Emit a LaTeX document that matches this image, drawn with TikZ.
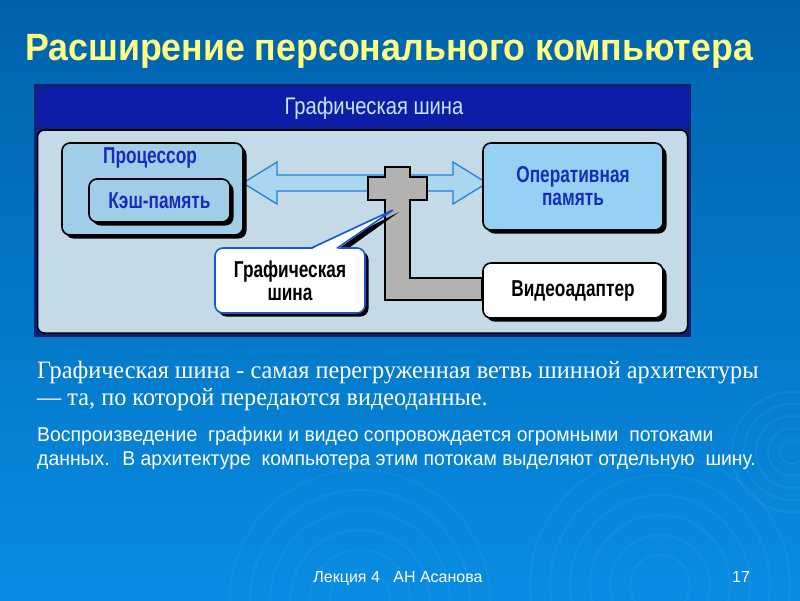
\documentclass[tikz,border=0pt]{standalone}
\usepackage{fontspec}
\setmainfont{Liberation Serif}
\setsansfont{Liberation Sans}
\newfontfamily\titlefont[FakeStretch=0.94]{Liberation Sans}
\newfontfamily\labelfont[FakeStretch=0.75]{Liberation Sans}
\newfontfamily\headfont[FakeStretch=0.84]{Liberation Sans}
\newfontfamily\bodysans[FakeStretch=0.97]{Liberation Sans}
\newfontfamily\footsans{Liberation Sans}
\newfontfamily\bodyserif[FakeStretch=0.97]{Liberation Serif}
\usetikzlibrary{shadows,calc}
\definecolor{slideTop}{RGB}{0,98,172}
\definecolor{slideBottom}{RGB}{8,140,226}
\definecolor{titleYellow}{RGB}{255,255,130}
\definecolor{frameNavy}{RGB}{16,32,118}
\definecolor{headBlue}{RGB}{12,30,168}
\definecolor{headText}{RGB}{205,228,255}
\definecolor{panelBlue}{RGB}{196,218,230}
\definecolor{procBlue}{RGB}{160,205,232}
\definecolor{ramBlue}{RGB}{150,208,242}
\definecolor{labelBlue}{RGB}{24,44,188}
\definecolor{arrowFill}{RGB}{168,214,242}
\definecolor{arrowEdge}{RGB}{36,128,222}
\definecolor{busGray}{RGB}{178,178,176}
\definecolor{callEdge}{RGB}{26,86,206}

\begin{document}
\begin{tikzpicture}[x=1pt, y=-1pt,
  box/.style={draw=black, line width=1.6pt, rounded corners=8pt, inner sep=0pt,
    drop shadow={shadow xshift=3.5pt, shadow yshift=-3.5pt, fill=black, opacity=1}},
  bluebox/.style={box, fill=procBlue},
  lbl/.style={font=\labelfont\bfseries\fontsize{23}{25}\selectfont, align=center},
  bodyline/.style={anchor=base west, inner sep=0pt, text=white}]
\useasboundingbox (0,0) rectangle (800,600);
% slide background
\shade[top color=slideTop, bottom color=slideBottom] (0,0) rectangle (800,600);
\foreach \r in {12,24,36,48,60}{
  \draw[white, opacity=0.05, line width=2pt] (792,452) circle (\r);
}
\foreach \r in {30,50,70,90,110,130}{
  \draw[white, opacity=0.04, line width=2.5pt] (660,585) circle (\r);
  \draw[white, opacity=0.035, line width=2.5pt] (360,600) circle (\r);
}
% title
\node (title) [anchor=base west, inner sep=0pt, text=titleYellow,
  font=\titlefont\bfseries\fontsize{38}{42}\selectfont] at (25,60)
  {Расширение персонального компьютера};
% picture frame
\fill[frameNavy] (34,84) rectangle (691,337);
\node (panel) [draw=black, line width=1.5pt, fill=panelBlue, rounded corners=7pt,
  minimum width=650pt, minimum height=203pt] at (362.5,231.5) {};
\node (header) [fill=headBlue, rounded corners=7pt, minimum width=653pt, minimum height=40pt]
  at (363.5,107) {};
\node (headlbl) [text=headText, font=\headfont\fontsize{24}{26}\selectfont] at (374,108)
  {Графическая шина};
% double arrow between processor and memory
\coordinate (tipL) at (243,183);
\coordinate (tipR) at (487,183);
\draw[fill=arrowFill, draw=arrowEdge, line width=1.3pt, fill opacity=0.9]
  (tipL) -- ++(34,-21) -- ++(0,13) -- ($(tipR)+(-34,-8)$) -- ++(0,-13) -- (tipR)
  -- ++(-34,21) -- ++(0,-13) -- ($(tipL)+(34,8)$) -- ++(0,13) -- cycle;
% boxes
\node (proc) [bluebox, minimum width=181pt, minimum height=92pt] at (152.5,189) {};
\node (proclbl) [lbl, text=labelBlue] at (150,158) {Процессор};
\node (cache) [bluebox, minimum width=141pt, minimum height=43pt, lbl, text=labelBlue]
  at (159.5,200.5) {Кэш-память};
\node (ram) [box, fill=ramBlue, minimum width=180pt, minimum height=87pt, lbl, text=labelBlue]
  at (573,186.5) {Оперативная\\[-2pt]память};
\node (video) [box, fill=white, minimum width=180pt, minimum height=55pt, lbl]
  at (573,290.5) {Видеоадаптер};
% graphics bus (gray T joining the arrow to the video adapter)
\draw[fill=busGray, line width=1.5pt, line join=miter]
  (385,167) -- (410,167) -- (410,177) -- (427,177) -- (427,200) -- (410,200)
  -- (410,278) -- (video.west |- 0,278) -- (video.west |- 0,300) -- (385,300)
  -- (385,200) -- (368,200) -- (368,177) -- (385,177) -- cycle;
% callout
\coordinate (calltip) at (393,210);
\fill[black] (323,250) -- ($(calltip)+(6,2)$) -- (346,250) -- cycle;
\node (callout) [box, draw=callEdge, fill=white, minimum width=150pt, minimum height=65pt, lbl]
  at (290,280.5) {Графическая\\[-2pt]шина};
\fill[white] (311,249.5) -- (calltip) -- (337,249.5) -- cycle;
\draw[callEdge, line width=1.6pt] (311,248.2) -- (calltip) -- (337,248.2);
% text below the picture
\node (para1a) [bodyline, font=\bodyserif\fontsize{25}{27}\selectfont] at (37,378)
  {Графическая шина - самая перегруженная ветвь шинной архитектуры};
\node (para1b) [bodyline, font=\bodyserif\fontsize{25}{27}\selectfont] at (37,405)
  {— та, по которой передаются видеоданные.};
\node (para2a) [bodyline, font=\bodysans\fontsize{20}{22}\selectfont] at (37,441)
  {Воспроизведение \ графики и видео сопровождается огромными \ потоками};
\node (para2b) [bodyline, font=\bodysans\fontsize{20}{22}\selectfont] at (37,465)
  {данных. \ В архитектуре \ компьютера этим потокам выделяют отдельную \ шину.};
% footer
\node (footer) [anchor=base, inner sep=0pt, text=white, font=\footsans\fontsize{16}{18}\selectfont]
  at (398,582) {Лекция 4 \ \ АН Асанова};
\node (pageno) [anchor=base, inner sep=0pt, text=white, font=\footsans\fontsize{16}{18}\selectfont]
  at (741,582) {17};
\end{tikzpicture}
\end{document}
